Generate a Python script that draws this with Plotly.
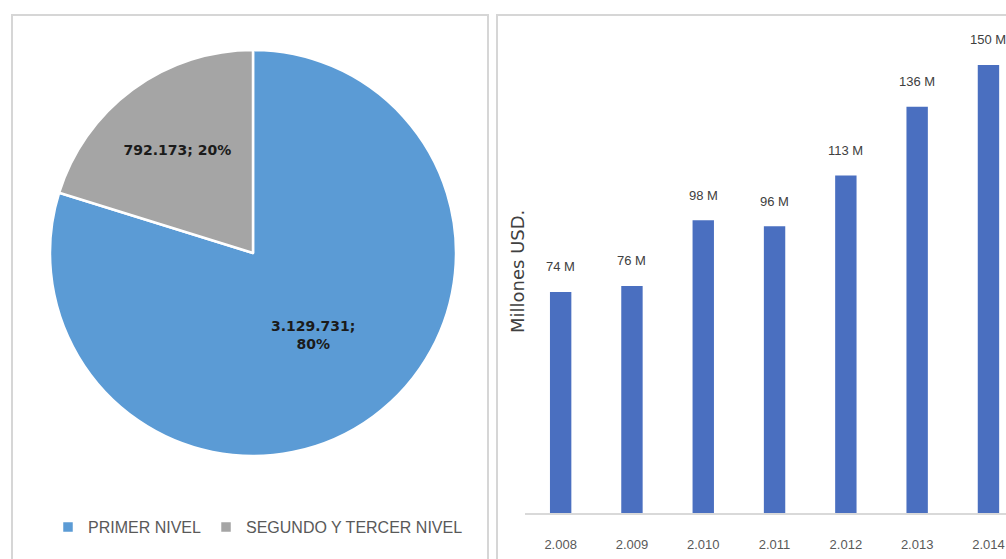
import plotly.graph_objects as go

# Pie: population by care level
levels = ["PRIMER NIVEL", "SEGUNDO Y TERCER NIVEL"]
level_values = [3129731, 792173]
level_colors = ["#5B9BD5", "#A5A5A5"]

# Bars: yearly amounts in millions of USD
years = ["2.008", "2.009", "2.010", "2.011", "2.012", "2.013", "2.014"]
amounts = [74, 76, 98, 96, 113, 136, 150]

W, H = 1006, 559

def px_x(x):
    return x / W

def px_y(y):
    return 1 - y / H

fig = go.Figure()

fig.add_trace(go.Pie(
    labels=levels,
    values=level_values,
    sort=False,
    direction="clockwise",
    rotation=0,
    marker=dict(colors=level_colors, line=dict(color="white", width=2.5)),
    texttemplate=["%{value:,.0f};<br>%{percent:.0%}", "%{value:,.0f}; %{percent:.0%}"],
    textposition="inside",
    insidetextorientation="horizontal",
    textfont=dict(family="DejaVu Sans", size=14, color="#1b1b1b", weight="bold"),
    domain=dict(x=[px_x(50), px_x(456)], y=[px_y(456), px_y(50)]),
    hoverinfo="label+value+percent",
    showlegend=True,
))

fig.add_trace(go.Bar(
    x=years,
    y=amounts,
    marker=dict(color="#4a6fc0", line=dict(width=0)),
    width=0.3,
    xaxis="x",
    yaxis="y",
    showlegend=False,
    hoverinfo="x+y",
))

# value labels above the bars (category index positions)
for i, v in enumerate(amounts):
    fig.add_annotation(
        x=i, y=v, xref="x", yref="y",
        text=f"{v} M", showarrow=False,
        yshift=25,
        font=dict(family="Liberation Sans", size=13, color="#404040"),
    )

fig.add_annotation(
    x=px_x(517), y=px_y(272), xref="paper", yref="paper",
    text="Millones USD.", textangle=-90, showarrow=False,
    font=dict(family="DejaVu Sans", size=18, color="#404040"),
)

# panel frames
fig.add_shape(type="rect", xref="paper", yref="paper",
              x0=px_x(12), x1=px_x(488), y0=px_y(562), y1=px_y(15),
              line=dict(color="#d6d6d6", width=2), layer="below")
fig.add_shape(type="rect", xref="paper", yref="paper",
              x0=px_x(497), x1=px_x(1012), y0=px_y(562), y1=px_y(15),
              line=dict(color="#d6d6d6", width=2), layer="below")

fig.update_layout(
    width=W, height=H,
    margin=dict(l=0, r=0, t=0, b=0),
    paper_bgcolor="white",
    plot_bgcolor="white",
    separators=",.",
    font=dict(family="Liberation Sans", color="#595959"),
    xaxis=dict(
        domain=[px_x(525), 1.0],
        range=[-0.5, 6.246],
        type="category",
        showgrid=False,
        showline=True, linecolor="#d9d9d9", linewidth=1.5,
        ticks="",
        tickfont=dict(family="Liberation Sans", size=13, color="#595959"),
        ticklabelstandoff=19,
        fixedrange=True,
    ),
    yaxis=dict(
        domain=[px_y(513), px_y(35)],
        range=[0, 160],
        showgrid=False, showticklabels=False, zeroline=False, showline=False,
        fixedrange=True,
    ),
    legend=dict(
        orientation="h",
        x=px_x(48), y=px_y(527), xanchor="left", yanchor="middle",
        font=dict(family="Liberation Sans", size=16, color="#595959"),
        bgcolor="rgba(0,0,0,0)",
        itemclick=False,
    ),
    bargap=0.7,
)

fig.write_html("out.html")
